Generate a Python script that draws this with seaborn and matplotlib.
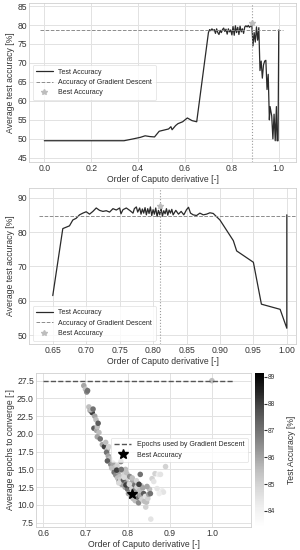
import matplotlib
matplotlib.use("Agg")
import matplotlib.pyplot as plt
import seaborn as sns
import pandas as pd

sns.set_style("whitegrid")
plt.rcParams['font.family'] = ['Liberation Sans', 'DejaVu Sans']
plt.rcParams['font.size'] = 6.2

# --- panel 1: full range of alpha
alpha_1 = [0.0, 0.34, 0.38, 0.41, 0.43, 0.45, 0.47, 0.49, 0.51, 0.53, 0.54, 0.545,
           0.56, 0.57, 0.59, 0.61, 0.63, 0.65, 0.70, 0.705, 0.71, 0.715, 0.72, 0.725,
           0.73, 0.735, 0.74, 0.745, 0.75, 0.755, 0.76, 0.765, 0.77, 0.775, 0.78,
           0.785, 0.79, 0.795, 0.80, 0.805, 0.81, 0.815, 0.82, 0.825, 0.83, 0.835,
           0.84, 0.845, 0.85, 0.855, 0.86, 0.865, 0.87, 0.875, 0.88, 0.885, 0.89,
           0.895, 0.90, 0.905, 0.91, 0.915, 0.92, 0.925, 0.93, 0.935, 0.94, 0.945,
           0.95, 0.955, 0.96, 0.963, 0.97, 0.975, 0.98, 0.985, 0.99, 0.993, 0.997, 1.0]
acc_1 = [49.5, 49.5, 50.0, 50.4, 50.8, 50.6, 50.5, 52.0, 52.3, 52.6, 53.2, 52.4,
         53.5, 54.0, 54.5, 55.5, 54.8, 54.5, 78.0, 78.8, 78.5, 79.0, 78.5, 78.8,
         77.8, 79.0, 78.0, 77.5, 78.6, 78.0, 78.8, 79.2, 78.3, 78.9, 77.6,
         79.0, 78.2, 78.7, 77.4, 79.6, 77.3, 79.8, 78.0, 79.4, 77.5, 79.7,
         78.2, 79.0, 77.8, 79.5, 79.8, 79.5, 79.9, 79.4, 79.7, 80.2, 74.5,
         78.0, 75.5, 79.5, 76.0, 79.3, 68.0, 70.5, 66.0, 69.5, 70.5, 70.7,
         63.0, 67.0, 55.0, 58.5, 56.0, 50.0, 56.5, 49.5, 58.5, 49.5, 49.5, 78.7]
gd_acc_1 = 78.7
best_1 = (0.888, 80.6)

# --- panel 2: zoom on 0.65 - 1.0
alpha_2 = [0.65, 0.665, 0.675, 0.68, 0.685, 0.69, 0.695, 0.70, 0.705, 0.71, 0.715,
           0.72, 0.725, 0.73, 0.735, 0.74, 0.745, 0.75, 0.752, 0.755, 0.76, 0.765,
           0.77, 0.772, 0.775, 0.777, 0.78, 0.782, 0.784, 0.786, 0.788, 0.79, 0.792,
           0.794, 0.796, 0.798, 0.80, 0.802, 0.804, 0.806, 0.808, 0.81, 0.812, 0.814,
           0.816, 0.818, 0.82, 0.822, 0.824, 0.826, 0.828, 0.83, 0.834, 0.838, 0.842,
           0.846, 0.85, 0.853, 0.856, 0.86, 0.865, 0.87, 0.875, 0.88, 0.885, 0.89,
           0.90, 0.91, 0.92, 0.925, 0.95, 0.962, 0.99, 1.0, 1.0]
acc_2 = [61.5, 81.0, 81.8, 83.5, 84.0, 85.0, 85.5, 85.9, 85.2, 86.0, 87.0,
         86.3, 86.0, 86.2, 85.8, 86.8, 86.4, 87.0, 85.3, 86.5, 87.0, 86.3,
         85.5, 86.8, 87.3, 85.8, 87.0, 85.2, 86.7, 85.5, 87.1, 85.0, 86.8,
         85.4, 87.3, 84.8, 86.5, 85.2, 87.0, 84.5, 86.3, 85.0, 86.9, 84.6,
         86.2, 85.3, 86.8, 84.9, 86.4, 85.5, 86.6, 85.0, 86.3, 85.2, 86.0,
         85.0, 86.5, 87.2, 85.5, 85.0, 84.8, 85.5, 85.0, 85.2, 85.6, 85.4,
         83.5, 80.5, 77.5, 74.5, 71.2, 59.0, 57.5, 52.0, 85.0]
gd_acc_2 = 84.8
best_2 = (0.81, 87.7)

# --- panel 3: epochs to converge
alpha_3 = [0.696, 0.700, 0.703, 0.705, 0.708, 0.711, 0.716, 0.713, 0.718, 0.722,
           0.725, 0.720, 0.726, 0.728, 0.730, 0.732, 0.728, 0.735, 0.740, 0.745,
           0.748, 0.752, 0.750, 0.755, 0.754, 0.758, 0.752, 0.760, 0.762, 0.765,
           0.768, 0.770, 0.772, 0.775, 0.776, 0.778, 0.780, 0.782, 0.784, 0.783,
           0.786, 0.788, 0.790, 0.792, 0.794, 0.795, 0.797, 0.798, 0.800, 0.800,
           0.802, 0.803, 0.805, 0.806, 0.808, 0.810, 0.812, 0.813, 0.815, 0.817,
           0.818, 0.820, 0.822, 0.823, 0.825, 0.826, 0.828, 0.830, 0.830, 0.832,
           0.834, 0.836, 0.838, 0.840, 0.842, 0.843, 0.845, 0.848, 0.850, 0.852,
           0.854, 0.846, 0.774, 0.779, 0.785, 0.791, 0.796, 0.804, 0.811, 0.816,
           0.821, 0.827, 0.855, 0.858, 0.862, 0.865, 0.870, 0.873, 0.878, 0.882,
           0.885, 0.890, 0.875, 1.0]
epochs_3 = [26.8, 26.3, 25.9, 26.1, 23.8, 23.3, 23.0, 23.4, 23.5, 22.5,
            22.0, 20.8, 20.5, 21.0, 21.5, 20.2, 19.6, 19.3, 18.5, 18.2,
            18.8, 17.8, 17.4, 18.2, 16.9, 16.5, 16.2, 15.7, 15.2, 15.9,
            14.6, 15.3, 14.2, 15.5, 13.8, 14.6, 13.3, 14.0, 16.1, 13.6,
            12.9, 14.8, 13.5, 14.2, 12.5, 15.0, 13.1, 14.4, 12.2, 13.8,
            11.6, 13.0, 14.0, 12.6, 11.2, 12.3, 13.3, 10.9, 12.0, 12.8,
            10.6, 11.7, 12.5, 11.1, 13.0, 10.3, 12.0, 14.3, 11.3, 12.7,
            10.8, 12.4, 11.6, 10.5, 11.2, 9.7, 10.4, 10.9, 11.5, 12.2,
            11.6, 12.6, 14.9, 13.1, 15.0, 13.9, 12.8, 12.9, 13.8, 11.5,
            13.4, 12.9, 8.0, 13.7, 13.3, 14.4, 12.3, 14.3, 14.3, 12.0,
            11.8, 15.4, 11.6, 27.5]
test_acc_3 = [86.0, 85.5, 86.5, 87.0, 85.5, 86.0, 88.0, 85.5, 87.0, 86.0,
              85.5, 87.5, 86.0, 85.5, 87.5, 85.5, 86.0, 87.0, 86.0, 88.0,
              85.5, 85.5, 87.0, 85.0, 86.0, 85.5, 87.5, 86.5, 85.5, 86.0,
              87.0, 85.5, 86.5, 85.0, 85.5, 86.0, 87.0, 85.5, 86.5, 85.2,
              86.0, 85.5, 87.5, 85.0, 86.0, 85.5, 86.5, 85.5, 87.0, 85.0,
              86.0, 85.5, 86.5, 87.5, 85.5, 85.0, 86.0, 85.5, 86.5, 87.0,
              85.5, 86.0, 85.0, 87.0, 85.5, 86.5, 85.5, 87.0, 86.0, 85.5,
              85.0, 86.0, 87.5, 85.5, 84.5, 85.0, 85.5, 85.0, 86.0, 85.5,
              87.0, 86.0, 88.0, 84.8, 87.0, 84.8, 88.0, 84.8, 85.5, 84.8,
              85.0, 88.0, 84.5, 85.0, 84.5, 85.0, 84.5, 84.2, 84.5, 84.2,
              84.5, 85.0, 84.2, 85.5]
gd_epochs = 27.5
best_3 = (0.81, 11.5)
acc_min, acc_max = 83.4, 89.14

fig = plt.figure(figsize=(3, 5.5), dpi=100)
ax1 = fig.add_axes([0.097, 0.7055, 0.89, 0.289])
ax2 = fig.add_axes([0.097, 0.3745, 0.89, 0.2836])
ax3 = fig.add_axes([0.12, 0.0418, 0.717, 0.2800])
cax = fig.add_axes([0.85, 0.0418, 0.03, 0.2800])

for ax in (ax1, ax2, ax3, cax):
    for s in ax.spines.values():
        s.set_color("#d0d0d0")
        s.set_linewidth(0.6)
    ax.tick_params(labelsize=6.2, pad=1.5, length=0, colors="#333333")
    ax.grid(color="#e2e2e2", linewidth=0.7)


def acc_panel(ax, alpha, acc, gd, best, gd_span, loc):
    df = pd.DataFrame({"alpha": alpha, "acc": acc})
    sns.lineplot(data=df, x="alpha", y="acc", ax=ax, estimator=None, sort=False,
                 color="#2a2a2a", linewidth=0.9, label="Test Accuracy")
    ax.plot(gd_span, [gd, gd], ls="--", color="#8c8c8c", lw=0.7,
            label="Accuracy of Gradient Descent")
    ax.axvline(best[0], ls=":", color="#9a9a9a", lw=0.8)
    ax.plot(best[0], best[1], marker="*", ls="none", color="#bdbdbd", ms=4,
            label="Best Accuracy")
    ax.set_xlabel("Order of Caputo derivative [-]", fontsize=6.2, labelpad=1.5,
                  color="#333333")
    ax.set_ylabel("Average test accuracy [%]", fontsize=6.2, labelpad=1.5,
                  color="#333333")
    leg = ax.legend(loc=loc, fontsize=5, frameon=True, handlelength=2.4,
                    borderpad=0.5, labelspacing=0.5)
    leg.get_frame().set_edgecolor("#d8d8d8")
    leg.get_frame().set_linewidth(0.5)


acc_panel(ax1, alpha_1, acc_1, gd_acc_1, best_1, [-0.02, 1.02], "center left")
ax1.set_xlim(-0.065, 1.074)
ax1.set_ylim(43.9, 85.8)
ax1.set_xticks([0.0, 0.2, 0.4, 0.6, 0.8, 1.0])
ax1.set_yticks(range(45, 86, 5))

acc_panel(ax2, alpha_2, acc_2, gd_acc_2, best_2, [0.63, 1.02], "lower left")
ax2.set_xlim(0.6146, 1.0139)
ax2.set_ylim(47.4, 92.8)
ax2.set_xticks([0.65, 0.70, 0.75, 0.80, 0.85, 0.90, 0.95, 1.00])
ax2.set_yticks([50, 60, 70, 80, 90])

# panel 3
df3 = pd.DataFrame({"alpha": alpha_3, "epochs": epochs_3, "acc": test_acc_3})
norm = plt.Normalize(acc_min, acc_max)
ax3.plot([0.6, 1.05], [gd_epochs, gd_epochs], ls="--", color="#555555", lw=1.0,
         label="Epochs used by Gradient Descent")
sns.scatterplot(data=df3, x="alpha", y="epochs", hue="acc", palette="Greys",
                hue_norm=norm, ax=ax3, s=16, linewidth=0, legend=False)
ax3.plot(best_3[0], best_3[1], marker="*", ls="none", color="black", ms=7,
         label="Best Accuracy")
ax3.set_xlim(0.5826, 1.093)
ax3.set_ylim(6.89, 28.58)
ax3.set_xticks([0.6, 0.7, 0.8, 0.9, 1.0])
ax3.set_yticks([7.5, 10.0, 12.5, 15.0, 17.5, 20.0, 22.5, 25.0, 27.5])
ax3.set_xlabel("Order of Caputo derivative [-]", fontsize=6.2, labelpad=1.5,
               color="#333333")
ax3.set_ylabel("Average epochs to converge [-]", fontsize=6.2, labelpad=1.5,
               color="#333333")
leg = ax3.legend(loc="center right", fontsize=5, frameon=True, handlelength=2.4,
                 borderpad=0.5, labelspacing=0.5)
leg.get_frame().set_edgecolor("#d8d8d8")
leg.get_frame().set_linewidth(0.5)

sm = plt.cm.ScalarMappable(cmap="Greys", norm=norm)
cb = fig.colorbar(sm, cax=cax)
cb.set_ticks([84, 85, 86, 87, 88, 89])
cb.outline.set_linewidth(0)
cax.tick_params(labelsize=4.8, length=2, pad=1)
cb.set_label("Test Accuracy [%]", fontsize=6.2, labelpad=8, color="#333333")

fig.savefig("out.png", dpi=100)
